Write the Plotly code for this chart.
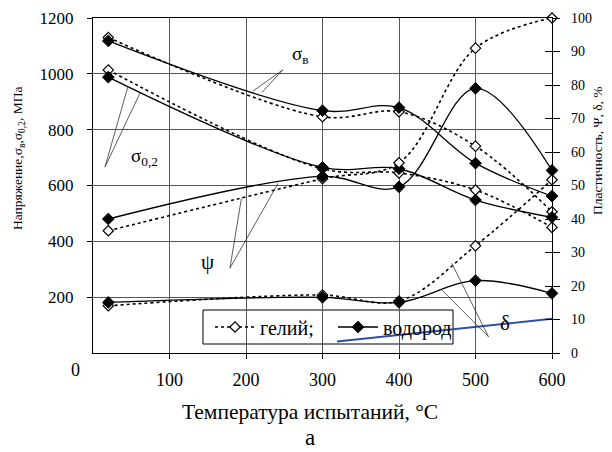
import plotly.graph_objects as go

# ---- data ----
T = [20, 300, 400, 500, 600]                      # test temperature, °C
sigma_b_he = [1130, 846, 864, 741, 506]           # σв, helium, MPa
sigma_b_h2 = [1118, 868, 879, 680, 562]           # σв, hydrogen, MPa
sigma_02_he = [1014, 660, 645, 584, 450]          # σ0,2, helium, MPa
sigma_02_h2 = [988, 665, 660, 548, 486]           # σ0,2, hydrogen, MPa
psi_he = [36.5, 52.0, 56.8, 91.0, 100.0]          # ψ, helium, %
psi_h2 = [40.0, 52.7, 49.6, 79.0, 54.5]           # ψ, hydrogen, %
delta_he = [14.1, 17.3, 15.5, 32.0, 51.7]         # δ, helium, %
delta_h2 = [15.1, 16.6, 15.1, 21.6, 17.8]         # δ, hydrogen, %
blue_x = [319, 600]
blue_y = [3.4, 10.2]

x_ticks = [100, 200, 300, 400, 500, 600]
y_left_ticks = [200, 400, 600, 800, 1000, 1200]
y_right_ticks = [0, 10, 20, 30, 40, 50, 60, 70, 80, 90, 100]

FONT = "'Liberation Serif', 'Times New Roman', 'DejaVu Serif', serif"

# The page body has an 8 px margin, so the figure is drawn 8 px right/down.
OFF = 8
SW, SH = 612, 452                         # screenshot size
L, R, TOP, BOT = 93, 552, 18, 353         # plot area in screen pixels
W, H = SW - OFF, SH - OFF                 # figure size
def px(xp):
    return (xp - L) / (R - L)
def py(yp):
    return (BOT - yp) / (BOT - TOP)

he_line = dict(color="black", width=1.6, dash="3px,3px", shape="spline", smoothing=1)
h2_line = dict(color="black", width=1.3, shape="spline", smoothing=1)
he_marker = dict(symbol="diamond", size=8, color="white", line=dict(color="black", width=1.2))
h2_marker = dict(symbol="diamond", size=9, color="black", line=dict(color="black", width=1))

fig = go.Figure()

def add(y, he, axis, name=None, legend=False):
    fig.add_trace(go.Scatter(
        x=T, y=y, mode="lines+markers", yaxis=axis,
        line=he_line if he else h2_line,
        marker=he_marker if he else h2_marker,
        name=name, showlegend=legend, cliponaxis=False, hoverinfo="skip"))

add(sigma_b_he, True, "y", "гелий;", True)
add(sigma_b_h2, False, "y", "водород", True)
add(sigma_02_he, True, "y")
add(sigma_02_h2, False, "y")
add(psi_he, True, "y2")
add(psi_h2, False, "y2")
add(delta_he, True, "y2")
add(delta_h2, False, "y2")

fig.add_trace(go.Scatter(x=blue_x, y=blue_y, mode="lines", yaxis="y2",
                         line=dict(color="#2E4FA8", width=2), showlegend=False,
                         hoverinfo="skip", cliponaxis=False))
# invisible helper trace for the inner tick axis
fig.add_trace(go.Scatter(x=T[:1], y=delta_h2[:1], mode="markers", yaxis="y3",
                         marker=dict(opacity=0), showlegend=False, hoverinfo="skip"))

# leader lines for labels (data coords on left axis)
leaders = [
    ((248, 1014), (209, 938)), ((248, 1014), (221, 934)),
    ((15.7, 666), (45.8, 956)), ((15.7, 666), (61.4, 931)),
    ((179, 304), (194, 554)), ((179, 304), (242, 608)),
    ((517, 58), (456, 226)), ((517, 58), (469, 321)),
]
shapes = [dict(type="line", xref="x", yref="y", x0=a[0], y0=a[1], x1=b[0], y1=b[1],
               line=dict(color="#333", width=0.8)) for a, b in leaders]
# legend box (white, hides gridlines, lies under the traces)
shapes.append(dict(type="rect", xref="paper", yref="paper", layer="between",
                   x0=px(203), x1=px(453), y0=py(344), y1=py(310),
                   fillcolor="white", line=dict(color="black", width=1)))

def pann(text, xp, yp, size, angle=0):
    return dict(text=text, x=px(xp), y=py(yp), xref="paper", yref="paper",
                xanchor="center", yanchor="middle", showarrow=False,
                textangle=angle, font=dict(size=size))

ann = [
    dict(text="σ<sub>в</sub>", x=271, y=1067, xref="x", yref="y", showarrow=False,
         font=dict(size=19)),
    dict(text="σ<sub>0,2</sub>", x=67, y=702, xref="x", yref="y", showarrow=False,
         font=dict(size=19)),
    dict(text="ψ", x=150, y=326, xref="x", yref="y", showarrow=False, font=dict(size=21)),
    dict(text="δ", x=539, y=108, xref="x", yref="y", showarrow=False, font=dict(size=21)),
    pann("0", 75, 370, 18),
    pann("Температура испытаний, °C", 310, 412, 21.5),
    pann("а", 310, 437, 23),
    pann("Напряжение,σ<sub>в</sub>,σ<sub>0,2</sub>, МПа", 18, 159, 13.5, -90),
    pann("Пластичность, Ψ, δ, %", 597, 151, 13.5, -90),
]

fig.update_layout(
    template="none",
    width=W, height=H,
    margin=dict(l=L - OFF, r=SW - R, t=TOP - OFF, b=SH - BOT),
    paper_bgcolor="white", plot_bgcolor="white",
    font=dict(family=FONT, color="black"),
    shapes=shapes, annotations=ann,
    xaxis=dict(range=[0, 600], tickvals=x_ticks, ticks="outside", ticklen=5,
               tickcolor="black", showline=True, linecolor="black", linewidth=1,
               mirror=True, showgrid=True, gridcolor="#555", gridwidth=1,
               zeroline=False, tickfont=dict(size=18), ticklabelstandoff=5,
               automargin=False),
    yaxis=dict(range=[0, 1200], tickvals=y_left_ticks, ticks="outside", ticklen=5,
               tickcolor="black", showline=True, linecolor="black", linewidth=1,
               showgrid=True, gridcolor="#555", gridwidth=1, zeroline=False,
               tickfont=dict(size=17), ticklabelstandoff=10, automargin=False),
    yaxis2=dict(range=[0, 100], tickvals=y_right_ticks, overlaying="y", side="right",
                anchor="x", ticks="outside", ticklen=7, tickcolor="black",
                showline=True, linecolor="black", linewidth=1.2, showgrid=False,
                zeroline=False, tickfont=dict(size=14), ticklabelstandoff=8,
                automargin=False),
    yaxis3=dict(range=[0, 100], tickvals=y_right_ticks, overlaying="y", side="right",
                anchor="x", ticks="inside", ticklen=7, tickcolor="black",
                showline=False, showgrid=False, zeroline=False, showticklabels=False,
                automargin=False),
    legend=dict(x=px(210), y=py(327), xanchor="left", yanchor="middle", orientation="h",
                font=dict(size=20, family=FONT), bgcolor="rgba(0,0,0,0)",
                borderwidth=0, itemwidth=40, entrywidth=68, entrywidthmode="pixels"),
    showlegend=True,
)

fig.write_html("out.html")
